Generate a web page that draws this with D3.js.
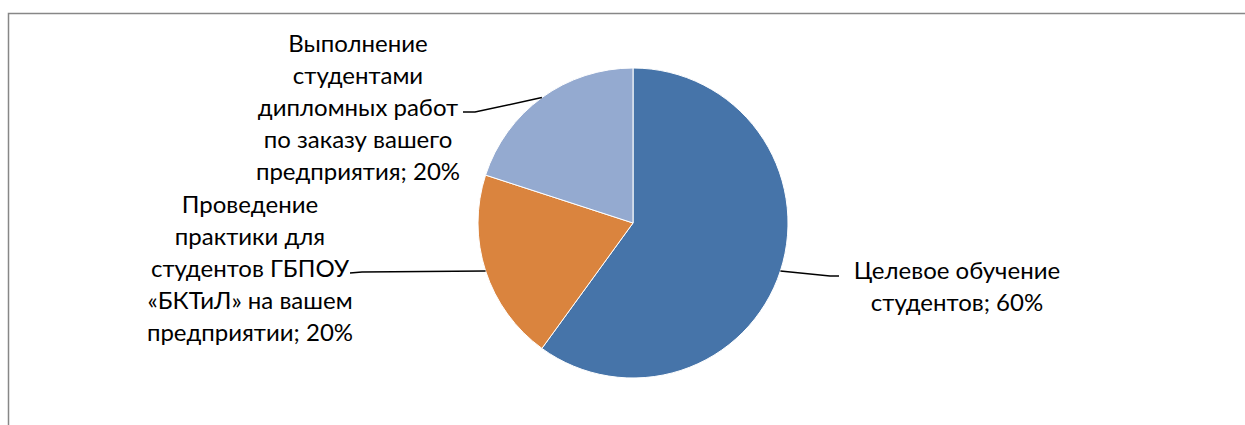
<!DOCTYPE html>
<html>
<head>
<meta charset="utf-8">
<script src="https://cdn.jsdelivr.net/npm/d3@7"></script>
<style>
  body { margin: 0; background: #fff; }
  svg { display: block; }
  text { font-family: Lato, "Open Sans", sans-serif; }
</style>
</head>
<body>
<svg id="chart" width="1245" height="425"></svg>
<script>
const categories = [
  "Целевое обучение студентов",
  "Проведение практики для студентов ГБПОУ «БКТиЛ» на вашем предприятии",
  "Выполнение студентами дипломных работ по заказу вашего предприятия"
];
const values = [60, 20, 20];
const labelLines = [
  ["Целевое обучение", "студентов; 60%"],
  ["Проведение", "практики для", "студентов ГБПОУ", "«БКТиЛ» на вашем", "предприятии; 20%"],
  ["Выполнение", "студентами", "дипломных работ", "по заказу вашего", "предприятия; 20%"]
];
const colors = ["#4674A9", "#DA843E", "#94AAD0"];

const svg = d3.select("#chart");
const cx = 633, cy = 223, r = 155;

// chart area border (only top and left visible)
svg.append("path")
  .attr("d", "M8.5,425 L8.5,13.5 L1245,13.5")
  .attr("fill", "none")
  .attr("stroke", "#878787")
  .attr("stroke-width", 1.5);

const pie = d3.pie().sort(null).value(d => d)(values);
const arc = d3.arc().innerRadius(0).outerRadius(r);

const g = svg.append("g").attr("transform", `translate(${cx},${cy})`);

g.selectAll("path.slice")
  .data(pie)
  .enter()
  .append("path")
  .attr("class", "slice")
  .attr("d", arc)
  .attr("fill", (d, i) => colors[i])
  .attr("stroke", "#fff")
  .attr("stroke-width", 1);

// label layout: text center, first baseline, leader elbow + end
const labelPos = [
  { x: 957, y: 279, elbow: [197, 53], end: [206, 53] },
  { x: 250, y: 213, elbow: [-271, 49], end: [-283, 50] },
  { x: 358, y: 52, elbow: [-158, -111], end: [-170, -111] }
];
const lineH = 32;

pie.forEach((d, i) => {
  const mid = (d.startAngle + d.endAngle) / 2;
  const start = [r * Math.sin(mid), -r * Math.cos(mid)];
  const p = labelPos[i];
  g.append("polyline")
    .attr("points", [start, p.elbow, p.end].map(q => q.join(",")).join(" "))
    .attr("fill", "none")
    .attr("stroke", "#000")
    .attr("stroke-width", 1.5);

  const t = svg.append("text")
    .attr("x", p.x)
    .attr("y", p.y)
    .attr("text-anchor", "middle")
    .attr("font-size", 24)
    .attr("fill", "#000");
  labelLines[i].forEach((line, j) => {
    t.append("tspan")
      .attr("x", p.x)
      .attr("dy", j === 0 ? 0 : lineH)
      .text(line);
  });
});
</script>
</body>
</html>
